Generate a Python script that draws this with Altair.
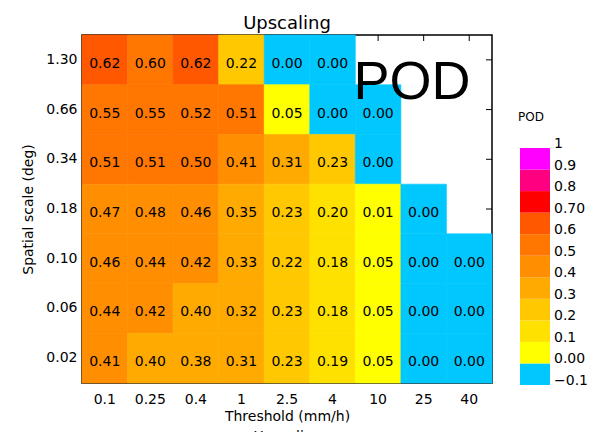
import altair as alt
import pandas as pd

thresholds = ["0.1", "0.25", "0.4", "1", "2.5", "4", "10", "25", "40"]
scales = ["1.30", "0.66", "0.34", "0.18", "0.10", "0.06", "0.02"]  # top to bottom

pod_130 = [0.62, 0.60, 0.62, 0.22, 0.00, 0.00, None, None, None]
pod_066 = [0.55, 0.55, 0.52, 0.51, 0.05, 0.00, 0.00, None, None]
pod_034 = [0.51, 0.51, 0.50, 0.41, 0.31, 0.23, 0.00, None, None]
pod_018 = [0.47, 0.48, 0.46, 0.35, 0.23, 0.20, 0.01, 0.00, None]
pod_010 = [0.46, 0.44, 0.42, 0.33, 0.22, 0.18, 0.05, 0.00, 0.00]
pod_006 = [0.44, 0.42, 0.40, 0.32, 0.23, 0.18, 0.05, 0.00, 0.00]
pod_002 = [0.41, 0.40, 0.38, 0.31, 0.23, 0.19, 0.05, 0.00, 0.00]
rows = [pod_130, pod_066, pod_034, pod_018, pod_010, pod_006, pod_002]

# colour levels (bins) and their colours
level_lo = [-0.1, 0.0, 0.1, 0.2, 0.3, 0.4, 0.5, 0.6, 0.7, 0.8, 0.9]
level_hi = [0.0, 0.1, 0.2, 0.3, 0.4, 0.5, 0.6, 0.7, 0.8, 0.9, 1.0]
level_colors = ["#00c8ff", "#ffff00", "#ffe100", "#ffc800", "#ffaa00",
                "#ff8e00", "#ff7600", "#ff5800", "#ff0000", "#ff0080", "#ff00ff"]
level_breaks = [0.005, 0.1, 0.201, 0.3, 0.401, 0.5, 0.601, 0.7, 0.8, 0.9]
legend_values = [-0.1, 0.0, 0.1, 0.2, 0.3, 0.4, 0.5, 0.6, 0.7, 0.8, 0.9, 1.0]
legend_texts = ["\u22120.1", "0.00", "0.1", "0.2", "0.3", "0.4", "0.5", "0.6",
                "0.70", "0.8", "0.9", "1"]

records = []
for s, vals in zip(scales, rows):
    for t, v in zip(thresholds, vals):
        if v is not None:
            records.append({"thr": t, "scale": s, "pod": v, "label": f"{v:.2f}"})
df = pd.DataFrame(records)

ticks_x = pd.DataFrame({"thr": thresholds})
ticks_y = pd.DataFrame({"scale": scales})
leg_df = pd.DataFrame({"lo": level_lo, "hi": level_hi, "col": level_colors})
leg_lab = pd.DataFrame({"v": legend_values, "t": legend_texts})

FONT = "DejaVu Sans"
xs = alt.Scale(domain=thresholds, paddingInner=0, paddingOuter=0)
ys = alt.Scale(domain=scales, paddingInner=0, paddingOuter=0)

x_axis = alt.Axis(title=["Threshold (mm/h)", "Upscaling"], labelAngle=0,
                  ticks=False, domain=False, labelPadding=9,
                  labelFontSize=14, titleFontSize=14, labelFont=FONT,
                  titleFont=FONT, titleFontWeight="normal", titlePadding=3,
                  titleLineHeight=20, labelColor="black", titleColor="black")
y_axis = alt.Axis(title="Spatial scale (deg)", ticks=False, domain=False,
                  labelPadding=5, labelFontSize=14, titleFontSize=14,
                  labelFont=FONT, titleFont=FONT, titleFontWeight="normal",
                  titlePadding=10, labelColor="black", titleColor="black")

cells = alt.Chart(df).mark_rect(strokeWidth=0.6).encode(
    x=alt.X("thr:N", scale=xs, sort=thresholds, axis=x_axis),
    y=alt.Y("scale:N", scale=ys, sort=scales, axis=y_axis),
    color=alt.Color("pod:Q", legend=None,
                    scale=alt.Scale(type="threshold", domain=level_breaks,
                                    range=level_colors)),
    stroke=alt.Stroke("pod:Q", legend=None,
                      scale=alt.Scale(type="threshold", domain=level_breaks,
                                      range=level_colors)))

top_ticks = alt.Chart(ticks_x).mark_rule(color="black", strokeWidth=1).encode(
    x=alt.X("thr:N", scale=xs, sort=thresholds, axis=x_axis),
    y=alt.value(0), y2=alt.value(6))
right_ticks = alt.Chart(ticks_y).mark_rule(color="black", strokeWidth=1).encode(
    y=alt.Y("scale:N", scale=ys, sort=scales, axis=None),
    x=alt.value(404), x2=alt.value(410))

texts = alt.Chart(df).mark_text(font=FONT, fontSize=14, color="black", dy=4).encode(
    x=alt.X("thr:N", scale=xs, sort=thresholds, axis=x_axis),
    y=alt.Y("scale:N", scale=ys, sort=scales, axis=None),
    text="label:N")

big = alt.Chart(pd.DataFrame({"t": ["POD"]})).mark_text(
    font="Liberation Sans", fontSize=54, color="black", align="center",
    baseline="alphabetic").encode(x=alt.value(330), y=alt.value(64), text="t:N")

leg_scale = alt.Scale(domain=[-0.1, 1.0], range=[350, 113])
leg_rect = alt.Chart(leg_df).mark_rect().encode(
    y=alt.Y("lo:Q", scale=leg_scale, axis=None), y2="hi:Q",
    x=alt.value(438), x2=alt.value(468),
    color=alt.Color("col:N", scale=None))
leg_text = alt.Chart(leg_lab).mark_text(
    font=FONT, fontSize=14, align="left", baseline="alphabetic", color="black").encode(
    y=alt.Y("v:Q", scale=leg_scale, axis=None),
    x=alt.value(472), text="t:N")
leg_title = alt.Chart(pd.DataFrame({"t": ["POD"]})).mark_text(
    font=FONT, fontSize=12, align="left", baseline="middle", color="black").encode(
    x=alt.value(436), y=alt.value(82), text="t:N")

chart = alt.layer(top_ticks, right_ticks, cells, texts, big,
                  leg_rect, leg_text, leg_title).resolve_scale(
    y="independent").properties(
    width=410, height=348,
    autosize=alt.AutoSizeParams(type="none"),
    padding={"left": 74, "top": 27, "right": 104, "bottom": 49},
    title=alt.TitleParams("Upscaling", fontSize=18, font=FONT, fontWeight="normal",
                          offset=2, anchor="middle", color="black"),
).configure(background="white").configure_view(stroke="black", strokeWidth=1.5)

chart.save("out.html", embed_options={"renderer": "svg", "actions": False})
